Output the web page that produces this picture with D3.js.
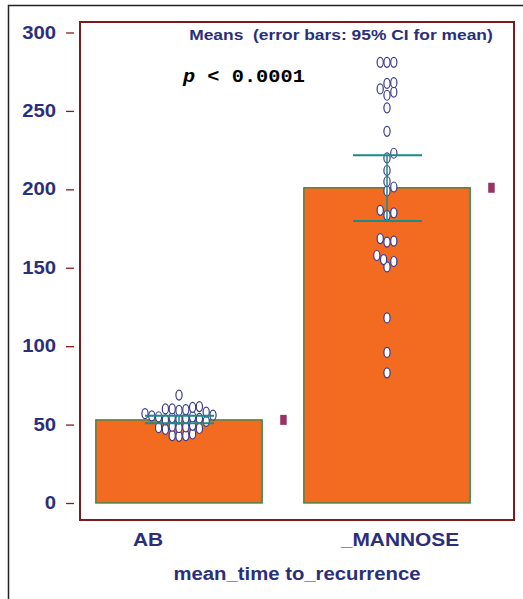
<!DOCTYPE html>
<html>
<head>
<meta charset="utf-8">
<script src="https://cdn.jsdelivr.net/npm/d3@7"></script>
<style>
  body { margin: 0; background: #fff; }
  svg text { font-family: "Liberation Sans", Arial, sans-serif; font-weight: bold; fill: #2b2f7a; }
</style>
</head>
<body>
<div id="chart"></div>
<script>
// chart data
const groups = ["AB", "_MANNOSE"];
const means = [53, 201];
const ciLow = [50.8, 179.8];
const ciHigh = [55.6, 221.7];
const yTicks = [0, 50, 100, 150, 200, 250, 300];
const abTimes = [68.8, 57, 58, 59, 59.5, 60, 60, 61, 61.5,
  52, 53, 53.5, 54, 54, 54.5, 55, 55, 55.5, 56,
  47, 47.5, 48, 48, 48.5, 49, 49.5, 42.5, 43, 43, 44];
const mannoseTimes = [281, 281, 281, 267.5, 268, 264, 260, 262, 252, 237, 223, 220,
  212, 205, 201.5, 199, 186.6, 185, 183.4, 168.6, 167, 166.4,
  157.8, 155.2, 154, 150.5, 118, 96, 83];
const points = [abTimes, mannoseTimes];

(function() {
  const width = 523, height = 599;
  const frame = {left: 80, top: 22, right: 514, bottom: 520};
  const stretch = 1.16; // the original picture's text is a bit wider than normal

  const svg = d3.select("#chart").append("svg")
    .attr("width", width)
    .attr("height", height);

  // outer border
  svg.append("rect")
    .attr("x", 8.5).attr("y", 5.5)
    .attr("width", 530).attr("height", 620)
    .attr("fill", "#fff")
    .attr("stroke", "#222")
    .attr("stroke-width", 1.5);

  const x = d3.scaleBand()
    .domain(groups)
    .range([75, 491])
    .paddingInner(0.2)
    .paddingOuter(0.1);

  const y = d3.scaleLinear()
    .domain([0, 300])
    .range([503, 32.5]);

  // y axis
  const yAxis = d3.axisLeft(y)
    .tickValues(yTicks)
    .tickSize(8)
    .tickPadding(10);

  const ax = svg.append("g")
    .attr("transform", `translate(${frame.left - 6},0)`)
    .call(yAxis);
  ax.select(".domain").remove();
  ax.selectAll(".tick line").attr("stroke", "#8b1a1a").attr("stroke-width", 1.3);
  ax.selectAll(".tick text")
    .style("font-size", "17.5px")
    .attr("fill", "#2b2f7a");

  // plot frame
  svg.append("rect")
    .attr("x", frame.left).attr("y", frame.top)
    .attr("width", frame.right - frame.left)
    .attr("height", frame.bottom - frame.top)
    .attr("fill", "none")
    .attr("stroke", "#7b1a1a")
    .attr("stroke-width", 2);

  // bars
  svg.selectAll("rect.bar")
    .data(groups)
    .join("rect")
    .attr("class", "bar")
    .attr("x", d => x(d))
    .attr("width", x.bandwidth())
    .attr("y", (d, i) => y(means[i]))
    .attr("height", (d, i) => y(0) - y(means[i]))
    .attr("fill", "#f26b21")
    .attr("stroke", "#1e8c4e")
    .attr("stroke-width", 1.3);

  // mean markers to the right of each bar
  svg.selectAll("rect.mean-mark")
    .data(groups)
    .join("rect")
    .attr("class", "mean-mark")
    .attr("x", d => x(d) + x.bandwidth() + 18)
    .attr("y", (d, i) => y(means[i]) - 5)
    .attr("width", 6.5)
    .attr("height", 10)
    .attr("fill", "#9b3264");

  // simple dodge layout for the dots
  const rx = 3.1, ry = 5;
  groups.forEach((g, gi) => {
    const cx = x(g) + x.bandwidth() / 2;
    const placed = [];
    const sorted = points[gi].slice().sort((a, b) => a - b);
    sorted.forEach(v => {
      const py = y(v);
      for (let k = 0; k < 60; k++) {
        const off = (k % 2 ? 1 : -1) * Math.ceil(k / 2) * 3.4;
        const px = cx + off;
        const hit = placed.some(p => {
          const dx = (p.x - px) / 6.4, dy = (p.y - py) / 8.5;
          return dx * dx + dy * dy < 1;
        });
        if (!hit) { placed.push({x: px, y: py}); break; }
      }
    });
    svg.append("g").selectAll("ellipse")
      .data(placed)
      .join("ellipse")
      .attr("cx", d => d.x)
      .attr("cy", d => d.y)
      .attr("rx", rx)
      .attr("ry", ry)
      .attr("fill", "#fff")
      .attr("stroke", "#3a3a8c")
      .attr("stroke-width", 1.2);
  });

  // error bars
  const eb = svg.append("g").attr("stroke", "#1a8a8a");
  groups.forEach((g, i) => {
    const cx = x(g) + x.bandwidth() / 2;
    eb.append("line")
      .attr("x1", cx).attr("x2", cx)
      .attr("y1", y(ciHigh[i])).attr("y2", y(ciLow[i]))
      .attr("stroke-width", 1.5);
    [ciLow[i], ciHigh[i]].forEach(v => {
      eb.append("line")
        .attr("x1", cx - 34).attr("x2", cx + 35)
        .attr("y1", y(v)).attr("y2", y(v))
        .attr("stroke-width", 2);
    });
  });

  // titles
  svg.append("text")
    .attr("x", 341).attr("y", 40)
    .attr("text-anchor", "middle")
    .style("font-size", "15px")
    .style("white-space", "pre")
    .text("Means  (error bars: 95% CI for mean)");

  const pText = svg.append("text")
    .attr("x", 183).attr("y", 82)
    .style("font-family", "'Liberation Mono', 'Courier New', monospace")
    .style("font-size", "17.5px")
    .style("fill", "#000");
  pText.append("tspan").style("font-style", "italic").text("p");
  pText.append("tspan").text(" < 0.0001");

  // category labels
  const labelX = [148, 400];
  svg.selectAll("text.cat")
    .data(groups)
    .join("text")
    .attr("class", "cat")
    .attr("x", (d, i) => labelX[i])
    .attr("y", 546)
    .attr("text-anchor", "middle")
    .style("font-size", "18px")
    .text(d => d);

  svg.append("text")
    .attr("x", 297).attr("y", 580)
    .attr("text-anchor", "middle")
    .style("font-size", "17.5px")
    .text("mean_time to_recurrence");

  // widen every text a little, like the source image
  svg.selectAll("text").each(function() {
    const w = this.getComputedTextLength();
    d3.select(this)
      .attr("textLength", w * stretch)
      .attr("lengthAdjust", "spacingAndGlyphs");
  });
})();
</script>
</body>
</html>
